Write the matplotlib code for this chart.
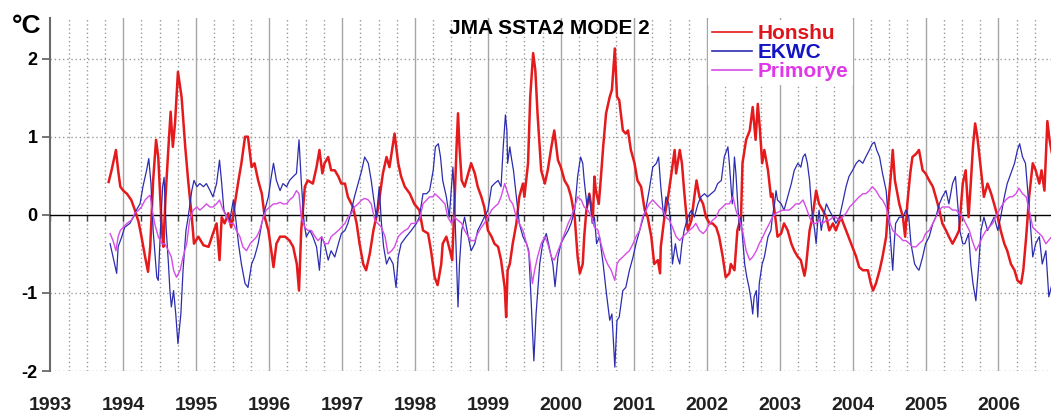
import numpy as np
import matplotlib
matplotlib.use("Agg")
import matplotlib.pyplot as plt

plt.rcParams['font.family'] = ['Liberation Sans', 'DejaVu Sans']

# values: (decimal year, anomaly degC)
honshu = [(1993.80,0.42),(1993.84,0.57),(1993.90,0.83),(1993.93,0.57),(1993.96,0.36),(1994.00,0.31),(1994.05,0.27),(1994.11,0.19),(1994.16,0.06),(1994.21,-0.09),(1994.25,-0.28),(1994.30,-0.54),(1994.34,-0.73),(1994.37,-0.41),(1994.41,0.44),(1994.45,0.96),(1994.48,0.74),(1994.53,-0.20),(1994.55,-0.41),(1994.58,0.23),(1994.62,0.87),(1994.65,1.32),(1994.68,0.87),(1994.71,1.17),(1994.75,1.83),(1994.80,1.51),(1994.85,0.87),(1994.89,0.44),(1994.94,-0.03),(1994.97,-0.37),(1995.03,-0.28),(1995.10,-0.39),(1995.17,-0.41),(1995.23,-0.24),(1995.28,-0.11),(1995.32,-0.58),(1995.35,-0.03),(1995.39,-0.11),(1995.44,0.02),(1995.48,-0.16),(1995.53,0.14),(1995.58,0.44),(1995.62,0.66),(1995.67,1.00),(1995.71,1.00),(1995.76,0.61),(1995.80,0.66),(1995.85,0.44),(1995.90,0.27),(1995.94,-0.03),(1995.99,-0.20),(1996.03,-0.46),(1996.06,-0.67),(1996.10,-0.37),(1996.15,-0.28),(1996.22,-0.28),(1996.28,-0.33),(1996.33,-0.41),(1996.38,-0.63),(1996.41,-0.97),(1996.44,-0.20),(1996.49,0.36),(1996.53,0.44),(1996.60,0.40),(1996.65,0.61),(1996.69,0.83),(1996.73,0.53),(1996.76,0.66),(1996.81,0.74),(1996.85,0.57),(1996.90,0.57),(1996.95,0.49),(1996.99,0.40),(1997.04,0.40),(1997.08,0.23),(1997.15,0.10),(1997.20,-0.11),(1997.24,-0.37),(1997.29,-0.63),(1997.33,-0.71),(1997.38,-0.50),(1997.43,-0.20),(1997.49,0.06),(1997.56,0.53),(1997.61,0.74),(1997.65,0.61),(1997.72,1.04),(1997.77,0.66),(1997.81,0.49),(1997.86,0.36),(1997.93,0.27),(1997.99,0.14),(1998.06,0.06),(1998.11,-0.20),(1998.18,-0.24),(1998.22,-0.46),(1998.27,-0.80),(1998.31,-0.90),(1998.36,-0.63),(1998.38,-0.37),(1998.43,-0.28),(1998.48,-0.46),(1998.51,-0.58),(1998.54,0.10),(1998.57,0.87),(1998.59,1.30),(1998.61,0.87),(1998.64,0.44),(1998.68,0.36),(1998.73,0.53),(1998.77,0.66),(1998.82,0.53),(1998.86,0.36),(1998.91,0.23),(1998.95,0.10),(1999.00,-0.20),(1999.05,-0.28),(1999.09,-0.37),(1999.14,-0.41),(1999.18,-0.58),(1999.23,-0.93),(1999.25,-1.31),(1999.27,-0.71),(1999.30,-0.63),(1999.34,-0.37),(1999.39,-0.11),(1999.43,0.23),(1999.48,0.40),(1999.50,0.23),(1999.55,0.66),(1999.58,1.51),(1999.62,2.07),(1999.65,1.85),(1999.68,1.30),(1999.73,0.57),(1999.78,0.40),(1999.82,0.57),(1999.87,0.87),(1999.91,1.08),(1999.96,0.70),(2000.00,0.61),(2000.05,0.44),(2000.10,0.36),(2000.14,0.23),(2000.19,-0.03),(2000.23,-0.54),(2000.26,-0.75),(2000.30,-0.63),(2000.32,-0.28),(2000.35,0.06),(2000.39,0.27),(2000.44,-0.03),(2000.46,0.49),(2000.48,0.31),(2000.52,0.14),(2000.55,0.49),(2000.58,0.87),(2000.62,1.30),(2000.67,1.51),(2000.70,1.60),(2000.74,2.13),(2000.77,1.51),(2000.80,1.47),(2000.85,1.08),(2000.89,1.04),(2000.92,1.08),(2000.96,0.83),(2001.01,0.66),(2001.05,0.44),(2001.10,0.36),(2001.15,0.06),(2001.19,-0.03),(2001.24,-0.28),(2001.28,-0.63),(2001.33,-0.58),(2001.36,-0.75),(2001.37,-0.41),(2001.42,-0.03),(2001.47,0.23),(2001.51,0.49),(2001.56,0.83),(2001.58,0.53),(2001.63,0.83),(2001.66,0.66),(2001.69,0.31),(2001.74,-0.20),(2001.79,-0.07),(2001.83,0.23),(2001.86,0.44),(2001.90,0.23),(2001.95,0.14),(2001.99,-0.03),(2002.04,-0.11),(2002.08,-0.11),(2002.13,-0.16),(2002.17,-0.28),(2002.22,-0.54),(2002.26,-0.80),(2002.31,-0.75),(2002.33,-0.63),(2002.38,-0.71),(2002.42,-0.20),(2002.47,-0.03),(2002.49,0.66),(2002.54,0.96),(2002.59,1.08),(2002.63,1.38),(2002.67,0.96),(2002.70,1.42),(2002.73,1.08),(2002.76,0.66),(2002.79,0.83),(2002.84,0.57),(2002.88,0.23),(2002.90,0.27),(2002.95,-0.11),(2002.97,-0.28),(2003.02,-0.24),(2003.06,-0.11),(2003.11,-0.20),(2003.16,-0.37),(2003.20,-0.46),(2003.25,-0.54),(2003.29,-0.58),(2003.34,-0.78),(2003.36,-0.67),(2003.41,-0.20),(2003.45,-0.03),(2003.50,0.31),(2003.54,0.14),(2003.59,0.06),(2003.64,-0.03),(2003.68,-0.20),(2003.73,-0.11),(2003.77,-0.20),(2003.84,-0.03),(2003.91,-0.20),(2003.98,-0.37),(2004.05,-0.54),(2004.09,-0.67),(2004.14,-0.71),(2004.21,-0.71),(2004.25,-0.88),(2004.28,-0.97),(2004.32,-0.88),(2004.37,-0.71),(2004.41,-0.54),(2004.46,-0.28),(2004.49,0.14),(2004.53,0.57),(2004.55,0.83),(2004.58,0.44),(2004.64,0.14),(2004.69,-0.03),(2004.72,-0.28),(2004.75,0.14),(2004.79,0.53),(2004.82,0.74),(2004.87,0.78),(2004.91,0.83),(2004.96,0.57),(2005.00,0.53),(2005.05,0.44),(2005.10,0.36),(2005.14,0.23),(2005.19,0.06),(2005.23,-0.11),(2005.28,-0.20),(2005.32,-0.28),(2005.37,-0.37),(2005.42,-0.28),(2005.46,-0.20),(2005.51,0.40),(2005.55,0.57),(2005.59,-0.03),(2005.62,0.40),(2005.65,0.87),(2005.68,1.17),(2005.71,1.00),(2005.76,0.57),(2005.80,0.23),(2005.85,0.40),(2005.90,0.27),(2005.94,0.14),(2005.99,-0.03),(2006.03,-0.20),(2006.08,-0.37),(2006.12,-0.46),(2006.17,-0.63),(2006.22,-0.71),(2006.26,-0.84),(2006.31,-0.88),(2006.34,-0.71),(2006.38,-0.28),(2006.42,0.23),(2006.47,0.66),(2006.51,0.57),(2006.56,0.40),(2006.59,0.57),(2006.63,0.31),(2006.67,1.20),(2006.70,0.96),(2006.73,0.80)]

ekwc = [(1993.82,-0.37),(1993.86,-0.54),(1993.91,-0.75),(1993.93,-0.41),(1993.98,-0.28),(1994.02,-0.16),(1994.09,-0.11),(1994.14,-0.03),(1994.18,0.06),(1994.23,0.14),(1994.27,0.36),(1994.32,0.57),(1994.35,0.72),(1994.38,0.40),(1994.41,-0.20),(1994.46,-0.80),(1994.48,-0.84),(1994.51,-0.20),(1994.54,0.36),(1994.56,0.48),(1994.59,-0.20),(1994.62,-0.63),(1994.64,-0.97),(1994.66,-1.18),(1994.69,-0.97),(1994.72,-1.27),(1994.75,-1.65),(1994.79,-1.27),(1994.82,-0.71),(1994.86,-0.20),(1994.89,-0.03),(1994.94,0.31),(1994.97,0.44),(1995.01,0.36),(1995.05,0.40),(1995.10,0.36),(1995.14,0.40),(1995.19,0.31),(1995.23,0.23),(1995.28,0.40),(1995.32,0.70),(1995.35,0.40),(1995.38,0.06),(1995.42,-0.03),(1995.46,-0.07),(1995.51,0.19),(1995.54,-0.03),(1995.58,-0.37),(1995.62,-0.63),(1995.67,-0.88),(1995.71,-0.93),(1995.76,-0.63),(1995.80,-0.54),(1995.85,-0.37),(1995.90,-0.11),(1995.94,0.06),(1995.99,0.23),(1996.03,0.49),(1996.06,0.66),(1996.10,0.44),(1996.15,0.31),(1996.19,0.40),(1996.24,0.36),(1996.28,0.44),(1996.33,0.49),(1996.375,0.53),(1996.41,0.96),(1996.44,0.44),(1996.48,-0.11),(1996.51,-0.28),(1996.56,-0.20),(1996.60,-0.28),(1996.65,-0.41),(1996.69,-0.71),(1996.72,-0.28),(1996.76,-0.37),(1996.81,-0.58),(1996.85,-0.46),(1996.90,-0.54),(1996.95,-0.37),(1996.99,-0.24),(1997.04,-0.20),(1997.08,-0.11),(1997.13,0.06),(1997.17,0.23),(1997.22,0.40),(1997.27,0.57),(1997.31,0.74),(1997.36,0.66),(1997.40,0.44),(1997.43,0.23),(1997.47,-0.03),(1997.51,0.36),(1997.54,-0.11),(1997.57,-0.41),(1997.61,-0.63),(1997.65,-0.54),(1997.70,-0.63),(1997.74,-0.93),(1997.77,-0.54),(1997.81,-0.37),(1997.88,-0.28),(1997.95,-0.20),(1998.02,-0.11),(1998.06,-0.03),(1998.11,0.27),(1998.16,0.27),(1998.20,0.31),(1998.25,0.57),(1998.28,0.87),(1998.32,0.91),(1998.35,0.74),(1998.38,0.44),(1998.43,0.23),(1998.47,-0.03),(1998.50,0.36),(1998.52,0.61),(1998.54,0.23),(1998.57,-0.63),(1998.59,-1.18),(1998.61,-0.63),(1998.64,-0.20),(1998.68,-0.03),(1998.73,-0.28),(1998.77,-0.46),(1998.82,-0.37),(1998.86,-0.20),(1998.91,-0.11),(1998.95,-0.03),(1999.00,0.06),(1999.05,0.36),(1999.09,0.40),(1999.14,0.44),(1999.18,0.36),(1999.21,0.87),(1999.24,1.28),(1999.26,1.08),(1999.27,0.66),(1999.30,0.87),(1999.32,0.74),(1999.35,0.57),(1999.39,0.23),(1999.43,-0.11),(1999.48,-0.28),(1999.53,-0.37),(1999.56,-0.46),(1999.59,-1.05),(1999.63,-1.87),(1999.66,-1.27),(1999.71,-0.63),(1999.75,-0.37),(1999.80,-0.24),(1999.84,-0.41),(1999.89,-0.63),(1999.92,-0.92),(1999.96,-0.54),(2000.00,-0.37),(2000.05,-0.28),(2000.10,-0.20),(2000.14,-0.11),(2000.19,0.06),(2000.23,0.49),(2000.27,0.74),(2000.30,0.66),(2000.32,0.44),(2000.36,0.10),(2000.39,0.27),(2000.43,-0.11),(2000.46,-0.03),(2000.49,-0.37),(2000.53,-0.28),(2000.58,-0.63),(2000.62,-0.97),(2000.67,-1.35),(2000.70,-1.27),(2000.74,-1.95),(2000.77,-1.35),(2000.80,-1.31),(2000.85,-0.97),(2000.89,-0.93),(2000.94,-0.71),(2000.99,-0.54),(2001.03,-0.37),(2001.08,-0.20),(2001.12,-0.07),(2001.17,0.10),(2001.21,0.31),(2001.26,0.61),(2001.31,0.66),(2001.34,0.74),(2001.37,0.36),(2001.41,-0.03),(2001.44,0.23),(2001.48,0.14),(2001.51,-0.20),(2001.53,-0.63),(2001.57,-0.37),(2001.60,-0.54),(2001.63,-0.63),(2001.66,-0.37),(2001.69,-0.20),(2001.74,-0.03),(2001.79,0.06),(2001.83,-0.03),(2001.88,0.14),(2001.92,0.23),(2001.97,0.27),(2002.01,0.23),(2002.06,0.27),(2002.11,0.31),(2002.15,0.40),(2002.20,0.44),(2002.24,0.74),(2002.29,0.87),(2002.31,0.66),(2002.35,0.14),(2002.38,0.74),(2002.40,0.53),(2002.43,0.06),(2002.45,-0.20),(2002.47,-0.03),(2002.49,-0.28),(2002.52,-0.63),(2002.55,-0.80),(2002.58,-0.93),(2002.61,-1.10),(2002.63,-1.27),(2002.65,-1.05),(2002.68,-0.97),(2002.70,-1.31),(2002.72,-0.88),(2002.76,-0.63),(2002.79,-0.54),(2002.84,-0.28),(2002.88,-0.20),(2002.90,-0.03),(2002.93,0.14),(2002.95,0.31),(2002.97,0.19),(2003.02,0.14),(2003.06,0.06),(2003.11,0.23),(2003.16,0.40),(2003.20,0.57),(2003.25,0.66),(2003.29,0.61),(2003.32,0.74),(2003.35,0.78),(2003.38,0.66),(2003.41,0.44),(2003.44,0.06),(2003.48,-0.20),(2003.50,-0.37),(2003.52,-0.11),(2003.54,0.06),(2003.57,-0.20),(2003.60,-0.03),(2003.64,0.14),(2003.68,0.06),(2003.73,-0.03),(2003.77,-0.11),(2003.82,-0.03),(2003.86,0.14),(2003.91,0.36),(2003.95,0.49),(2004.00,0.57),(2004.05,0.66),(2004.09,0.70),(2004.14,0.66),(2004.18,0.74),(2004.23,0.83),(2004.27,0.91),(2004.30,0.93),(2004.33,0.83),(2004.37,0.74),(2004.41,0.53),(2004.46,0.31),(2004.48,0.06),(2004.51,-0.20),(2004.55,-0.71),(2004.57,-0.37),(2004.59,-0.11),(2004.64,-0.03),(2004.69,-0.03),(2004.73,0.06),(2004.77,-0.03),(2004.80,-0.37),(2004.85,-0.63),(2004.89,-0.69),(2004.91,-0.71),(2004.96,-0.54),(2005.00,-0.37),(2005.05,-0.28),(2005.10,-0.11),(2005.14,-0.03),(2005.19,0.14),(2005.23,0.23),(2005.28,0.31),(2005.32,0.14),(2005.37,0.40),(2005.41,0.49),(2005.44,0.14),(2005.47,-0.20),(2005.51,-0.37),(2005.54,-0.37),(2005.59,-0.24),(2005.62,-0.63),(2005.65,-0.88),(2005.69,-1.10),(2005.73,-0.63),(2005.76,-0.20),(2005.80,-0.03),(2005.85,-0.20),(2005.90,-0.11),(2005.94,-0.03),(2005.99,-0.20),(2006.03,-0.03),(2006.08,0.23),(2006.12,0.40),(2006.17,0.53),(2006.22,0.66),(2006.26,0.83),(2006.29,0.91),(2006.33,0.74),(2006.37,0.66),(2006.40,0.31),(2006.43,-0.03),(2006.47,-0.54),(2006.51,-0.37),(2006.56,-0.28),(2006.60,-0.63),(2006.65,-0.46),(2006.69,-1.05),(2006.73,-0.90)]

primorye = [(1993.82,-0.24),(1993.86,-0.33),(1993.90,-0.46),(1993.93,-0.28),(1993.96,-0.20),(1994.00,-0.16),(1994.05,-0.11),(1994.11,-0.07),(1994.16,0.02),(1994.21,0.06),(1994.25,0.10),(1994.30,0.19),(1994.34,0.23),(1994.37,0.25),(1994.39,0.10),(1994.43,-0.11),(1994.48,-0.28),(1994.53,-0.37),(1994.57,-0.37),(1994.62,-0.46),(1994.66,-0.54),(1994.69,-0.71),(1994.73,-0.80),(1994.78,-0.71),(1994.82,-0.54),(1994.87,-0.37),(1994.91,-0.07),(1994.96,0.06),(1995.01,0.10),(1995.05,0.06),(1995.10,0.10),(1995.14,0.14),(1995.19,0.10),(1995.23,0.10),(1995.28,0.14),(1995.32,0.19),(1995.37,0.06),(1995.42,-0.03),(1995.46,-0.11),(1995.51,-0.11),(1995.55,-0.20),(1995.60,-0.28),(1995.64,-0.41),(1995.69,-0.46),(1995.74,-0.37),(1995.78,-0.33),(1995.83,-0.28),(1995.87,-0.20),(1995.92,-0.03),(1995.96,0.06),(1996.01,0.10),(1996.06,0.14),(1996.10,0.14),(1996.15,0.16),(1996.19,0.14),(1996.24,0.14),(1996.28,0.19),(1996.33,0.23),(1996.375,0.31),(1996.41,0.27),(1996.44,-0.03),(1996.49,-0.16),(1996.53,-0.20),(1996.58,-0.20),(1996.63,-0.28),(1996.67,-0.33),(1996.72,-0.28),(1996.76,-0.37),(1996.81,-0.37),(1996.85,-0.28),(1996.90,-0.24),(1996.95,-0.20),(1996.99,-0.16),(1997.04,-0.11),(1997.08,-0.03),(1997.13,0.02),(1997.17,0.10),(1997.22,0.14),(1997.27,0.19),(1997.31,0.21),(1997.36,0.19),(1997.40,0.14),(1997.45,-0.07),(1997.49,-0.11),(1997.54,-0.16),(1997.59,-0.28),(1997.63,-0.50),(1997.68,-0.46),(1997.72,-0.41),(1997.77,-0.28),(1997.81,-0.24),(1997.86,-0.20),(1997.90,-0.18),(1997.95,-0.11),(1997.99,-0.11),(1998.06,-0.07),(1998.11,0.14),(1998.16,0.19),(1998.20,0.23),(1998.25,0.23),(1998.27,0.27),(1998.32,0.23),(1998.36,0.19),(1998.41,0.14),(1998.45,-0.03),(1998.50,-0.11),(1998.54,-0.03),(1998.59,-0.07),(1998.64,-0.11),(1998.68,-0.20),(1998.73,-0.28),(1998.77,-0.33),(1998.82,-0.33),(1998.86,-0.24),(1998.91,-0.16),(1998.95,-0.11),(1999.00,-0.03),(1999.05,0.06),(1999.09,0.10),(1999.14,0.14),(1999.18,0.23),(1999.23,0.40),(1999.26,0.31),(1999.30,0.19),(1999.34,0.14),(1999.39,-0.03),(1999.43,-0.11),(1999.48,-0.20),(1999.53,-0.37),(1999.57,-0.54),(1999.61,-0.88),(1999.64,-0.71),(1999.68,-0.54),(1999.73,-0.37),(1999.78,-0.28),(1999.82,-0.37),(1999.87,-0.54),(1999.91,-0.58),(1999.96,-0.46),(2000.00,-0.37),(2000.05,-0.24),(2000.10,-0.11),(2000.14,-0.03),(2000.19,0.10),(2000.23,0.23),(2000.28,0.19),(2000.32,0.10),(2000.37,0.06),(2000.42,-0.03),(2000.46,-0.16),(2000.51,-0.20),(2000.55,-0.37),(2000.60,-0.54),(2000.64,-0.63),(2000.69,-0.71),(2000.74,-0.84),(2000.77,-0.63),(2000.80,-0.58),(2000.85,-0.54),(2000.89,-0.50),(2000.94,-0.46),(2000.99,-0.37),(2001.03,-0.28),(2001.08,-0.20),(2001.12,-0.03),(2001.17,0.06),(2001.21,0.14),(2001.26,0.19),(2001.31,0.14),(2001.35,0.10),(2001.40,0.06),(2001.44,-0.03),(2001.49,-0.07),(2001.53,-0.16),(2001.58,-0.28),(2001.63,-0.33),(2001.67,-0.28),(2001.72,-0.24),(2001.76,-0.20),(2001.81,-0.16),(2001.85,-0.11),(2001.90,-0.20),(2001.95,-0.24),(2001.99,-0.20),(2002.04,-0.11),(2002.08,-0.07),(2002.13,-0.03),(2002.17,0.06),(2002.22,0.10),(2002.26,0.14),(2002.31,0.14),(2002.36,0.23),(2002.40,0.06),(2002.45,-0.07),(2002.49,-0.20),(2002.54,-0.46),(2002.59,-0.58),(2002.63,-0.54),(2002.68,-0.46),(2002.72,-0.37),(2002.77,-0.28),(2002.81,-0.20),(2002.86,-0.11),(2002.90,-0.03),(2002.95,0.02),(2002.99,0.04),(2003.04,0.06),(2003.09,0.06),(2003.13,0.06),(2003.18,0.10),(2003.22,0.14),(2003.27,0.14),(2003.32,0.19),(2003.36,0.10),(2003.41,-0.03),(2003.45,-0.11),(2003.50,-0.11),(2003.54,-0.07),(2003.59,-0.11),(2003.64,-0.07),(2003.68,-0.07),(2003.73,-0.03),(2003.77,-0.03),(2003.82,-0.07),(2003.86,-0.03),(2003.91,0.02),(2003.96,0.10),(2004.00,0.14),(2004.05,0.19),(2004.09,0.23),(2004.14,0.27),(2004.18,0.27),(2004.23,0.31),(2004.27,0.36),(2004.32,0.31),(2004.37,0.23),(2004.41,0.19),(2004.46,0.10),(2004.50,-0.07),(2004.55,-0.20),(2004.59,-0.24),(2004.64,-0.28),(2004.69,-0.33),(2004.73,-0.33),(2004.78,-0.37),(2004.82,-0.41),(2004.87,-0.41),(2004.91,-0.37),(2004.96,-0.33),(2005.00,-0.24),(2005.05,-0.20),(2005.10,-0.11),(2005.14,-0.03),(2005.19,0.06),(2005.23,0.10),(2005.28,0.10),(2005.32,0.10),(2005.37,0.06),(2005.42,0.06),(2005.46,0.02),(2005.51,-0.03),(2005.55,-0.11),(2005.60,-0.20),(2005.64,-0.33),(2005.69,-0.46),(2005.74,-0.37),(2005.78,-0.28),(2005.83,-0.20),(2005.87,-0.16),(2005.92,-0.11),(2005.96,-0.03),(2006.01,0.06),(2006.06,0.14),(2006.10,0.19),(2006.15,0.23),(2006.19,0.23),(2006.24,0.27),(2006.28,0.34),(2006.33,0.27),(2006.38,0.23),(2006.42,0.06),(2006.47,-0.16),(2006.51,-0.20),(2006.56,-0.24),(2006.60,-0.28),(2006.65,-0.37),(2006.73,-0.28)]

years = list(range(1993, 2007))
names = ["Honshu", "EKWC", "Primorye"]
line_colors = ["#e41a1c", "#2c2cb0", "#d64ce6"]
text_colors = ["#e0141a", "#1414c4", "#e038e8"]

fig = plt.figure(figsize=(10.51, 4.16), dpi=100)
ax = fig.add_axes([50.3/1051, 1 - 371/416, 1 - 50.3/1051, (371 - 18)/416])
ax.set_xlim(1993, 2006.72)
ax.set_ylim(-2, 2.52)

# grid: solid at years, dotted at quarters and whole degrees
for yr in years[1:]:
    ax.axvline(yr, color="#a6a6a6", lw=1.0, zorder=1)
quarters = [y + q/4 for y in years for q in range(4) if y + q/4 < 2006.72]
for qx in quarters:
    if qx % 1 != 0:
        ax.axvline(qx, color="#999999", lw=1.0, ls=(0, (1, 2)), zorder=1)
for hv in [-2, -1, 1, 2]:
    ax.axhline(hv, color="#999999", lw=1.0, ls=(0, (1, 2)), zorder=1)

for data, name, c, lw in zip([honshu, ekwc, primorye], names, line_colors, [1.8, 0.9, 1.0]):
    t, v = zip(*data)
    ax.plot(t, v, color=c, lw=lw, label=name, zorder=3)

for s in ["top", "right"]:
    ax.spines[s].set_visible(False)
ax.spines["bottom"].set_position(("data", 0))
ax.spines["bottom"].set_color("black")
ax.spines["bottom"].set_linewidth(1.0)
ax.spines["left"].set_color("#6a6a6a")
ax.spines["left"].set_linewidth(1.5)

ax.set_xticks(quarters)
ax.tick_params(axis="x", direction="out", length=4, width=1, color="#404040", labelbottom=False)
ax.set_yticks([-2, -1, 0, 1, 2])
ax.set_yticklabels(["-2", "-1", "0", "1", "2"], fontsize=13, fontweight="bold")
ax.tick_params(axis="y", direction="out", length=6, width=1.3, color="#6a6a6a", pad=3)

sec = ax.secondary_xaxis("bottom")
sec.set_xticks(years)
sec.set_xticklabels([str(y) for y in years], fontsize=14, fontweight="bold", color="#202020")
sec.tick_params(length=0, pad=19)
sec.spines["bottom"].set_visible(False)

leg = ax.legend(loc="upper left", bbox_to_anchor=(0.657, 0.995), frameon=True, facecolor="white",
                edgecolor="none", framealpha=1, fancybox=False,
                prop={"weight": "bold", "size": 15}, handlelength=1.9, handletextpad=0.3,
                labelspacing=0.0, borderpad=0.2, borderaxespad=0)
for txt, c in zip(leg.get_texts(), text_colors):
    txt.set_color(c)
for ln in leg.get_lines():
    ln.set_linewidth(1.2)

fig.text(12/1051, 1 - 26/416, "°C", fontsize=19, fontweight="bold", va="center", ha="left")
fig.text(549.5/1051, 1 - 28.5/416, "JMA SSTA2 MODE 2", fontsize=15, fontweight="bold",
         va="center", ha="center")

fig.savefig("out.png", dpi=100)
